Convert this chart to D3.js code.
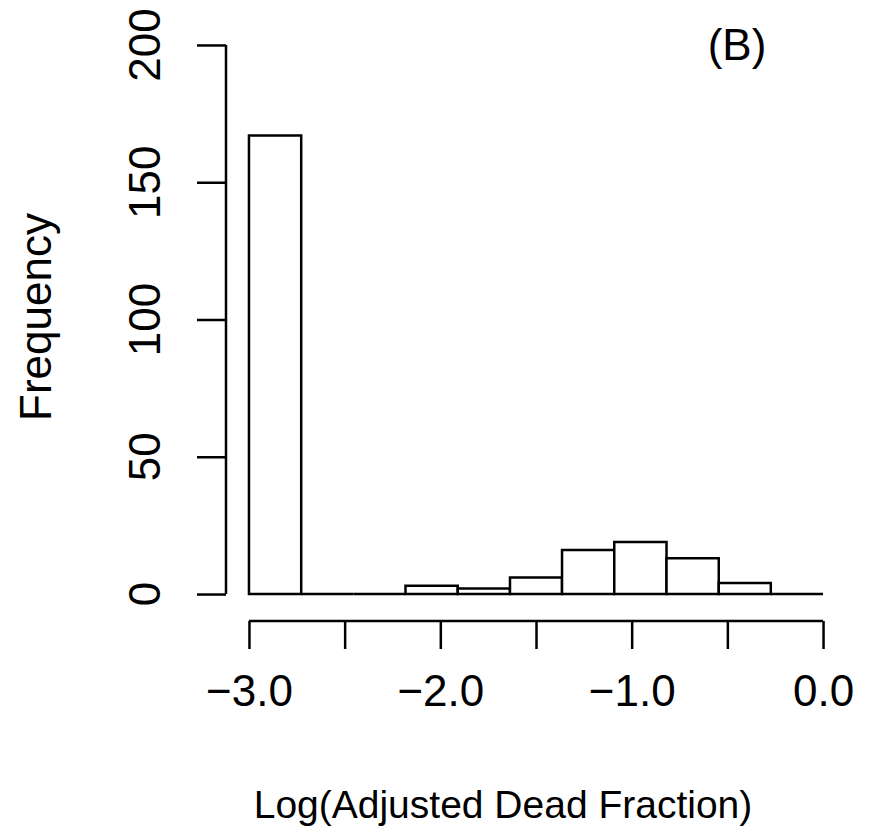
<!DOCTYPE html>
<html>
<head>
<meta charset="utf-8">
<style>
  body { margin:0; background:#fff; }
  svg { display:block; }
  text { font-family: "Liberation Sans", Arial, sans-serif; font-size:44px; fill:#000; }
  .bar { fill:#fff; stroke:#000; stroke-width:2.5px; }
  .axis line, .axis path { stroke:#000; stroke-width:2.5px; fill:none; }
</style>
</head>
<body>
<svg width="870" height="834"></svg>
<script src="https://cdn.jsdelivr.net/npm/d3@7"></script>
<script>

// histogram bins (from R hist), counts per bin
var breaks = [-3.000, -2.727, -2.455, -2.182, -1.909, -1.636, -1.364, -1.091, -0.818, -0.545, -0.273, 0.000]
var counts = [167, 0, 0, 3, 2, 6, 16, 19, 13, 4, 0]

var xTicks = [-3.0, -2.5, -2.0, -1.5, -1.0, -0.5, 0.0]
var xLabels = ["\u22123.0", "", "\u22122.0", "", "\u22121.0", "", "0.0"]
var yTicks = [0, 50, 100, 150, 200]
var yLabels = ["0", "50", "100", "150", "200"]

var svg = d3.select("svg")

// plot region like R's usr with 4% extension
var x = d3.scaleLinear()
  .domain([-3.12, 0.12])
  .range([226, 846])

var y = d3.scaleLinear()
  .domain([-8, 208])
  .range([616, 23])

var bins = counts.map(function(c, i) { return {x0: breaks[i], x1: breaks[i+1], n: c} })

// paths so empty bins still show as a line on the baseline
svg.selectAll(".bar")
  .data(bins)
  .enter().append("path")
  .attr("class", "bar")
  .attr("d", function(d) {
    var p = d3.path()
    p.moveTo(x(d.x0), y(0))
    p.lineTo(x(d.x0), y(d.n))
    p.lineTo(x(d.x1), y(d.n))
    p.lineTo(x(d.x1), y(0))
    p.closePath()
    return p.toString()
  })

// x axis
var xAxisY = 621
var gx = svg.append("g")
  .attr("class", "axis")
  .attr("transform", "translate(0," + xAxisY + ")")
  .call(d3.axisBottom(x)
    .tickValues(xTicks)
    .tickSize(28)
    .tickSizeOuter(0)
    .tickFormat(function(d, i) { return xLabels[i] }))
gx.select(".domain").remove()
gx.append("line")
  .attr("x1", x(xTicks[0])).attr("x2", x(xTicks[xTicks.length-1]))
gx.selectAll("text")
  .attr("font-size", 44)
  .attr("font-family", "Liberation Sans, Arial, sans-serif")
  .attr("y", 706 - xAxisY)
  .attr("dy", 0)

// y axis
var gy = svg.append("g")
  .attr("class", "axis")
  .attr("transform", "translate(226,0)")
  .call(d3.axisLeft(y)
    .tickValues(yTicks)
    .tickSize(29)
    .tickSizeOuter(0)
    .tickFormat(""))
gy.select(".domain").remove()
gy.append("line")
  .attr("y1", y(yTicks[0])).attr("y2", y(yTicks[yTicks.length-1]))

svg.selectAll(".ylab")
  .data(yTicks)
  .enter().append("text")
  .attr("class", "ylab")
  .attr("text-anchor", "middle")
  .attr("transform", function(d) { return "translate(160," + y(d) + ") rotate(-90)" })
  .text(function(d, i) { return yLabels[i] })

// axis titles
svg.append("text")
  .attr("text-anchor", "middle")
  .attr("x", 503)
  .attr("y", 818)
  .style("font-size", "39px")
  .text("Log(Adjusted Dead Fraction)")

svg.append("text")
  .attr("text-anchor", "middle")
  .attr("transform", "translate(51,317) rotate(-90)")
  .text("Frequency")

svg.append("text")
  .attr("text-anchor", "middle")
  .attr("x", 737)
  .attr("y", 60)
  .text("(B)")

</script>
</body>
</html>
